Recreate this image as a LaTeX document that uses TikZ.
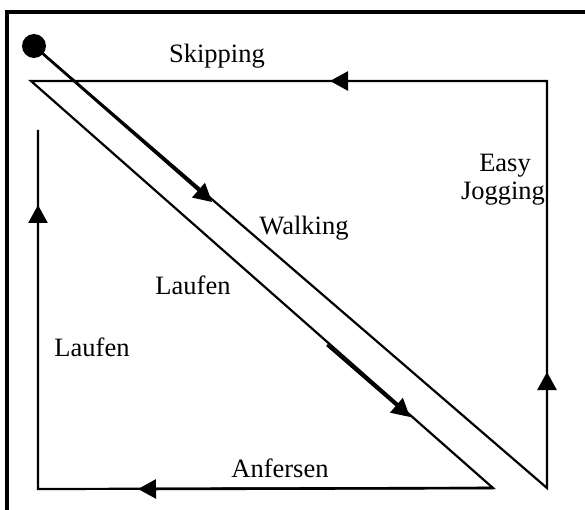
\documentclass[tikz,border=0pt]{standalone}
\usepackage{fontspec}
\setmainfont{Liberation Serif}
\usetikzlibrary{arrows.meta}
\begin{document}
\begin{tikzpicture}[x=1pt,y=-1pt,
  thinline/.style={line width=2.2pt, line join=miter},
  arrline/.style={line width=2.6pt, -{Triangle[length=18pt,width=19pt]}},
  lbl/.style={font=\fontsize{26.5pt}{30pt}\selectfont, anchor=base, inner sep=0pt}]
\useasboundingbox (0,0) rectangle (585,510);
\clip (0,0) rectangle (585,510);
% outer frame
\draw[line width=3.5pt] (7,520) -- (7,12) -- (600,12);
% corners
\coordinate (TR) at (547,81);
\coordinate (TL) at (31,81);
\coordinate (BR) at (547,488);
\coordinate (BM) at (493,488);
\coordinate (BL) at (38,489);
\coordinate (LT) at (38,130);
\node[circle, fill=black, minimum size=24pt, inner sep=0pt] (dot) at (34,46) {};
% path lines
\draw[thinline] (dot.center) -- (BR) -- (TR) -- (TL) -- (BM) -- (BL) -- (LT);
% arrows
\coordinate (wa) at (212,202);
\draw[arrline] (dot.center) -- (wa);
\coordinate (ia0) at (327,345);
\coordinate (ia1) at (410,417);
\draw[arrline] (ia0) -- (ia1);
\draw[arrline] (TR) -- (330,81) coordinate (ta);
\draw[arrline] (BR) -- (547,372) coordinate (ra);
\draw[arrline] (BM) -- (138,489) coordinate (ba);
\draw[arrline] (BL) -- (38,205) coordinate (la);
% labels
\node[lbl] (skip) at (217,63) {Skipping};
\node[lbl] (walk) at (304,235) {Walking};
\node[lbl] (lauf1) at (193,294) {Laufen};
\node[lbl] (lauf2) at (92,356) {Laufen};
\node[lbl] (anf) at (280,477) {Anfersen};
\node[lbl] (easy) at (505,172) {Easy};
\node[lbl] (jog) at (503,200) {Jogging};
\end{tikzpicture}
\end{document}
